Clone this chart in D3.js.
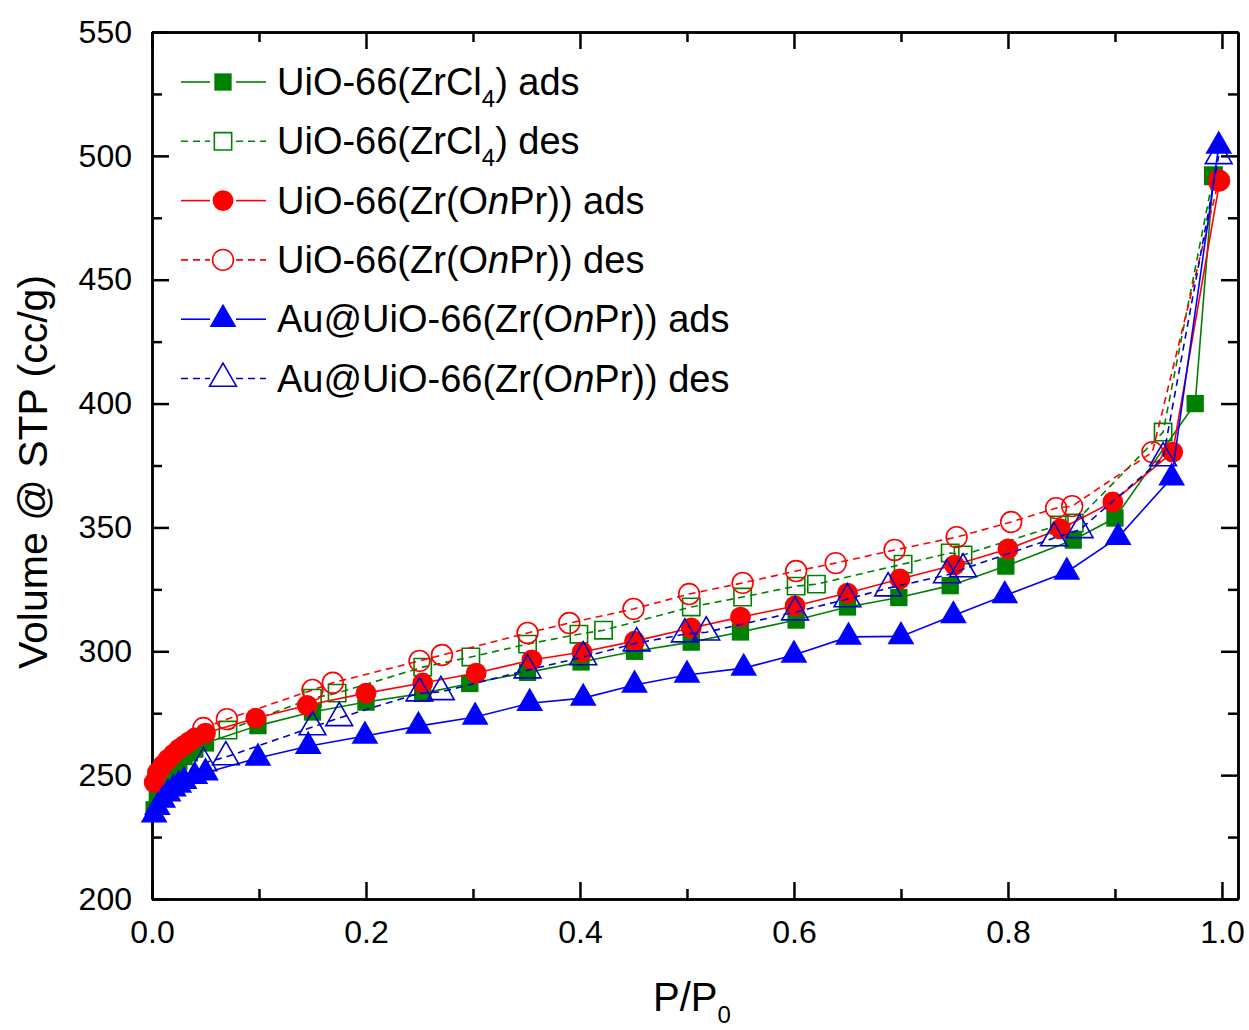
<!DOCTYPE html>
<html>
<head>
<meta charset="utf-8">
<script src="https://cdn.jsdelivr.net/npm/d3@7"></script>
<style>
  body { margin: 0; background: #fff; }
  text { font-family: Arial, "Liberation Sans", sans-serif; fill: #000; }
</style>
</head>
<body>
<div id="chart-area"></div>
<script>
// N2 isotherms
const pGreenAds = [0.002,0.005,0.01,0.015,0.02,0.025,0.03,0.035,0.04,0.05,0.099,0.15,0.2,0.253,0.297,0.351,0.401,0.451,0.504,0.55,0.602,0.65,0.698,0.746,0.798,0.861,0.9,0.975,0.992]
const vGreenAds = [236,241,246,250,253,255.5,257.5,259,260.5,263,270,275.5,279.5,283,287,291.5,295.7,300,303.7,307.8,312.6,317.9,321.7,326.5,334.4,344.9,353.8,400,492]

const pGreenDes = [0.071,0.15,0.173,0.253,0.298,0.351,0.399,0.422,0.504,0.552,0.602,0.621,0.702,0.746,0.758,0.848,0.862,0.945,0.992]
const vGreenDes = [268.2,281.1,283.1,293.6,297.7,302.9,306.9,308.5,317.9,321.9,326.3,327.1,335.2,339.7,338.9,351,351.8,388.5,492]

const pRedAds = [0.002,0.005,0.01,0.015,0.02,0.025,0.03,0.035,0.04,0.05,0.097,0.145,0.2,0.253,0.303,0.355,0.402,0.451,0.504,0.55,0.601,0.65,0.699,0.75,0.8,0.849,0.898,0.954,0.998]
const vRedAds = [247,251,254,256.5,258.5,260.5,262,263.5,265,267,273,278.2,283.1,287.2,291.2,296.5,299.7,304.1,309.4,313.8,318.3,323.5,329.2,334.8,341.3,349.4,360.3,380.4,490]

const pRedDes = [0.048,0.07,0.15,0.169,0.25,0.271,0.351,0.39,0.45,0.502,0.552,0.602,0.639,0.694,0.752,0.803,0.845,0.86,0.935,0.997]
const vRedDes = [269,272.6,284.4,287.3,296.1,298.5,307.4,311.4,317.1,323.1,327.6,332.4,335.6,340.9,346.1,352.2,357.8,358.6,380.4,490]

const pBlueAds = [0.002,0.005,0.01,0.015,0.02,0.025,0.03,0.04,0.05,0.099,0.146,0.199,0.249,0.302,0.353,0.403,0.451,0.5,0.553,0.6,0.651,0.7,0.749,0.797,0.855,0.903,0.953,0.997]
const vBlueAds = [234,237,240,242.5,244.5,246,247.5,249.5,251,256.9,261.7,265.8,269.8,273.5,279,281.1,286.4,290.4,293.2,298.5,305.8,306,314.4,322.5,332,346,370,504]

const pBlueDes = [0.048,0.069,0.15,0.175,0.25,0.27,0.351,0.403,0.453,0.498,0.518,0.601,0.65,0.688,0.743,0.758,0.843,0.867,0.945,0.997]
const vBlueDes = [254.9,257.3,269.4,273.1,283.1,283.6,292.4,297.7,303.3,306.9,307.7,315.8,321.1,325.5,330.8,333.2,345.7,349,378,500]

const xMajor = [0, 0.2, 0.4, 0.6, 0.8, 1.0]
const xMinor = [0.1, 0.3, 0.5, 0.7, 0.9]
const yMajor = [200, 250, 300, 350, 400, 450, 500, 550]
const yMinor = [225, 275, 325, 375, 425, 475, 525]

// legend labels: [text, subscript or italic, text]
const series = [
  { p: pGreenAds, v: vGreenAds, color: "#008000", sym: d3.symbolSquare, size: 300, open: false, dash: null, label: ["UiO-66(ZrCl", "4", ") ads"] },
  { p: pGreenDes, v: vGreenDes, color: "#008000", sym: d3.symbolSquare, size: 300, open: true, dash: "7,5", label: ["UiO-66(ZrCl", "4", ") des"] },
  { p: pRedAds, v: vRedAds, color: "#ff0000", sym: d3.symbolCircle, size: 340, open: false, dash: null, label: ["UiO-66(Zr(O", "n", "Pr)) ads"] },
  { p: pRedDes, v: vRedDes, color: "#ff0000", sym: d3.symbolCircle, size: 340, open: true, dash: "7,5", label: ["UiO-66(Zr(O", "n", "Pr)) des"] },
  { p: pBlueAds, v: vBlueAds, color: "#0000ff", sym: d3.symbolTriangle, size: 310, open: false, dash: null, label: ["Au@UiO-66(Zr(O", "n", "Pr)) ads"] },
  { p: pBlueDes, v: vBlueDes, color: "#0000cc", sym: d3.symbolTriangle, size: 310, open: true, dash: "7,5", label: ["Au@UiO-66(Zr(O", "n", "Pr)) des"] }
]

const W = 1249, H = 1030
const mLeft = 152, mRight = 1238, mTop = 32, mBottom = 899

const svg = d3.select("#chart-area")
    .append("svg")
    .attr("width", W)
    .attr("height", H)

const x = d3.scaleLinear().domain([0, 1.015]).range([mLeft, mRight])
const y = d3.scaleLinear().domain([200, 550]).range([mBottom, mTop])

// axes, ticks pointing inward on all four sides
function styleAxis(g) {
    g.selectAll("path").attr("stroke", "#000").attr("stroke-width", 2.5)
    g.selectAll("line").attr("stroke", "#000").attr("stroke-width", 2.5)
    g.selectAll("text").attr("font-size", 32).attr("fill", "#000")
        .attr("font-family", "Arial, 'Liberation Sans', sans-serif")
}

svg.append("g")
    .attr("transform", `translate(0, ${mBottom})`)
    .call(d3.axisBottom(x).tickValues(xMajor).tickSizeInner(-17).tickSizeOuter(0).tickPadding(21).tickFormat(d3.format(".1f")))
    .call(styleAxis)
svg.append("g")
    .attr("transform", `translate(0, ${mBottom})`)
    .call(d3.axisBottom(x).tickValues(xMinor).tickSizeInner(-10).tickSizeOuter(0).tickFormat(""))
    .call(styleAxis)

svg.append("g")
    .attr("transform", `translate(0, ${mTop})`)
    .call(d3.axisTop(x).tickValues(xMajor).tickSizeInner(-17).tickSizeOuter(0).tickFormat(""))
    .call(styleAxis)
svg.append("g")
    .attr("transform", `translate(0, ${mTop})`)
    .call(d3.axisTop(x).tickValues(xMinor).tickSizeInner(-10).tickSizeOuter(0).tickFormat(""))
    .call(styleAxis)

svg.append("g")
    .attr("transform", `translate(${mLeft}, 0)`)
    .call(d3.axisLeft(y).tickValues(yMajor).tickSizeInner(-17).tickSizeOuter(0).tickPadding(20))
    .call(styleAxis)
svg.append("g")
    .attr("transform", `translate(${mLeft}, 0)`)
    .call(d3.axisLeft(y).tickValues(yMinor).tickSizeInner(-10).tickSizeOuter(0).tickFormat(""))
    .call(styleAxis)

svg.append("g")
    .attr("transform", `translate(${mRight}, 0)`)
    .call(d3.axisRight(y).tickValues(yMajor).tickSizeInner(-17).tickSizeOuter(0).tickFormat(""))
    .call(styleAxis)
svg.append("g")
    .attr("transform", `translate(${mRight}, 0)`)
    .call(d3.axisRight(y).tickValues(yMinor).tickSizeInner(-10).tickSizeOuter(0).tickFormat(""))
    .call(styleAxis)

// axis titles
svg.append("text")
    .attr("transform", "translate(47, 472) rotate(-90)")
    .attr("text-anchor", "middle")
    .attr("font-size", 41)
    .text("Volume @ STP (cc/g)")

const xt = svg.append("text")
    .attr("x", 653)
    .attr("y", 1011)
    .attr("font-size", 40)
xt.append("tspan").text("P/P")
xt.append("tspan").attr("font-size", 24).attr("dy", 12).text("0")

// data
const line = d3.line().x(d => x(d[0])).y(d => y(d[1]))

series.forEach(s => {
    const pts = s.p.map((p, i) => [p, s.v[i]])
    svg.append("path")
        .datum(pts)
        .attr("d", line)
        .attr("fill", "none")
        .attr("stroke", s.color)
        .attr("stroke-width", 1.6)
        .attr("stroke-dasharray", s.dash)

    svg.append("g").selectAll("path")
        .data(pts)
        .enter().append("path")
        .attr("transform", d => `translate(${x(d[0])}, ${y(d[1])})`)
        .attr("d", d3.symbol().type(s.sym).size(s.size))
        .attr("fill", s.open ? "none" : s.color)
        .attr("stroke", s.open ? s.color : "none")
        .attr("stroke-width", 1.6)
})

// legend
const lg = svg.append("g")
series.forEach((s, i) => {
    const ry = 82 + i * 59.3
    const row = lg.append("g").attr("transform", `translate(0, ${ry})`)
    row.append("line").attr("x1", 181).attr("x2", 210).attr("y1", 0).attr("y2", 0)
        .attr("stroke", s.color).attr("stroke-width", 1.6).attr("stroke-dasharray", s.dash)
    row.append("line").attr("x1", 236).attr("x2", 266).attr("y1", 0).attr("y2", 0)
        .attr("stroke", s.color).attr("stroke-width", 1.6).attr("stroke-dasharray", s.dash)
    row.append("path")
        .attr("transform", "translate(223, 0)")
        .attr("d", d3.symbol().type(s.sym).size(s.size))
        .attr("fill", s.open ? "none" : s.color)
        .attr("stroke", s.open ? s.color : "none")
        .attr("stroke-width", 1.6)

    const t = row.append("text").attr("x", 277).attr("y", 13).attr("font-size", 38)
    t.append("tspan").text(s.label[0])
    if (s.label[1] === "4") {
        t.append("tspan").attr("font-size", 24).attr("dy", 12).text("4")
        t.append("tspan").attr("dy", -12).text(s.label[2])
    } else {
        t.append("tspan").attr("font-style", "italic").text(s.label[1])
        t.append("tspan").text(s.label[2])
    }
})
</script>
</body>
</html>
